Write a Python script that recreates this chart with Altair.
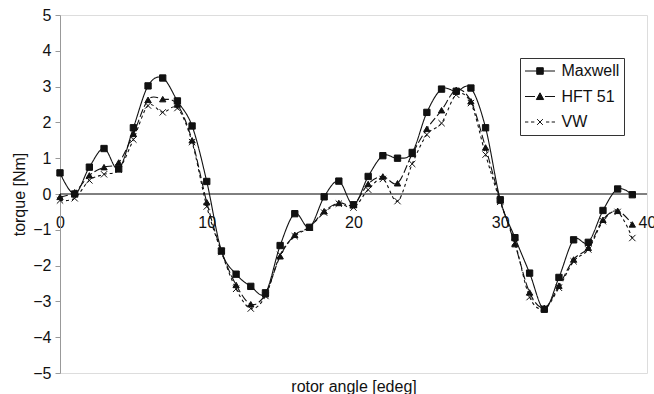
import altair as alt
import pandas as pd

angles = list(range(40))
series_names = ["Maxwell", "HFT 51", "VW"]

maxwell = [0.59, 0.00, 0.75, 1.27, 0.70, 1.85, 3.02, 3.24, 2.60, 1.90,
           0.35, -1.59, -2.24, -2.58, -2.76, -1.44, -0.55, -0.93, -0.08, 0.36,
           -0.30, 0.49, 1.07, 1.00, 1.16, 2.28, 2.93, 2.87, 2.96, 1.85,
           -0.16, -1.22, -2.21, -3.22, -2.33, -1.28, -1.35, -0.46, 0.14, -0.02]
hft51 = [-0.08, 0.05, 0.52, 0.75, 0.88, 1.68, 2.63, 2.65, 2.50, 1.50,
         -0.23, -1.60, -2.54, -3.08, -2.80, -1.74, -1.14, -0.93, -0.48, -0.25,
         -0.30, 0.28, 0.49, 0.30, 1.12, 1.82, 2.34, 2.91, 2.59, 1.30,
         -0.18, -1.40, -2.75, -3.18, -2.56, -1.83, -1.50, -0.72, -0.47, -0.85]
vw = [-0.18, -0.12, 0.38, 0.55, 0.68, 1.52, 2.47, 2.28, 2.40, 1.45,
      -0.35, -1.62, -2.65, -3.20, -2.85, -1.70, -1.18, -0.93, -0.52, -0.27,
      -0.38, 0.12, 0.42, -0.20, 0.84, 1.66, 1.98, 2.77, 2.54, 1.10,
      -0.22, -1.35, -2.88, -3.20, -2.62, -1.88, -1.55, -0.76, -0.50, -1.23]

x_ticks = [0, 10, 20, 30, 40]
y_ticks = list(range(-5, 6))

rows = []
for name, vals in zip(series_names, [maxwell, hft51, vw]):
    for a, v in zip(angles, vals):
        rows.append({"angle": a, "torque": v, "series": name})
df = pd.DataFrame(rows)

W, H = 587, 358
FONT = "Liberation Sans"
INK = "#111111"

x_enc = alt.X(
    "angle:Q",
    scale=alt.Scale(domain=[0, 40], nice=False, zero=False),
    axis=alt.Axis(values=x_ticks, offset=-H / 2, domain=False, ticks=False, tickSize=0,
                  labelPadding=20, labelFlush=False, grid=False,
                  labelFontSize=16, labelColor=INK,
                  title="rotor angle [edeg]", titleY=H / 2 + 18.5,
                  titleBaseline="alphabetic", titleFontSize=16,
                  titleFontWeight="normal", titleColor=INK),
)
y_enc = alt.Y(
    "torque:Q",
    scale=alt.Scale(domain=[-5, 5], nice=False, zero=False),
    axis=alt.Axis(values=y_ticks, grid=False, tickSize=5, labelPadding=4,
                  domainColor="#999999", tickColor="#999999",
                  labelFontSize=16, labelColor=INK,
                  title="torque [Nm]", titleX=-41, titleBaseline="middle",
                  titleFontSize=16, titleFontWeight="normal", titleColor=INK),
)

zero = alt.Chart(pd.DataFrame({"torque": [0]})).mark_rule(
    color="black", strokeWidth=1
).encode(y=y_enc)

lines = alt.Chart(df).mark_line(
    interpolate="cardinal", color=INK, strokeWidth=1.1
).encode(
    x=x_enc, y=y_enc,
    strokeDash=alt.StrokeDash("series:N",
                              scale=alt.Scale(domain=series_names,
                                              range=[[1, 0], [8, 3], [3, 3]]),
                              legend=None),
    detail="series:N",
)

point_shapes = ["square", "triangle-up", "M-1,-1L1,1M-1,1L1,-1"]
points = alt.Chart(df).mark_point(
    filled=True, fill=INK, stroke=INK, strokeWidth=1, size=40, opacity=1
).encode(
    x=x_enc, y=y_enc,
    shape=alt.Shape("series:N",
                    scale=alt.Scale(domain=series_names, range=point_shapes),
                    legend=None),
)

legend_shapes = [
    "M-1.875,0L1.875,0M-0.41,-0.41L0.41,-0.41L0.41,0.41L-0.41,0.41Z",
    "M-1.875,0L-0.625,0M0.625,0L1.875,0M0,-0.46L0.46,0.38L-0.46,0.38Z",
    "M-1.875,0L-1.46,0M-1.125,0L-0.71,0M0.75,0L1.16,0M1.46,0L1.875,0"
    "M-0.36,-0.36L0.36,0.36M-0.36,0.36L0.36,-0.36",
]
legend_layer = alt.Chart(df).transform_filter(
    alt.datum.torque > 100
).mark_point(filled=False, fill=INK, stroke=INK, strokeWidth=1, opacity=1).encode(
    x=x_enc, y=y_enc,
    shape=alt.Shape("series:N",
                    scale=alt.Scale(domain=series_names, range=legend_shapes),
                    legend=alt.Legend(title=None, orient="none", legendX=460, legendY=43,
                                      symbolSize=256, symbolOpacity=1, symbolOffset=7,
                                      symbolStrokeWidth=1, labelFontSize=16,
                                      labelFont=FONT, labelColor=INK, labelOffset=13,
                                      padding=4.5, strokeColor="#333333",
                                      fillColor="white", rowPadding=8.5)),
)

chart = alt.layer(zero, lines, points, legend_layer).resolve_scale(
    shape="independent"
).properties(
    width=W, height=H,
    padding={"left": 60, "top": 15, "right": 7, "bottom": 21},
    autosize=alt.AutoSizeParams(type="none"),
).configure_view(
    stroke="#999999", strokeWidth=1
).configure_axis(
    labelFont=FONT, titleFont=FONT
).configure(background="white")

chart.save("out.html", embed_options={"renderer": "svg", "actions": False})
